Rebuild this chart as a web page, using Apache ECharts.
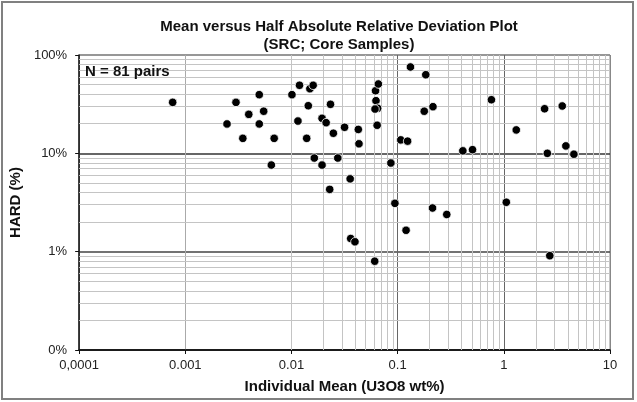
<!DOCTYPE html>
<html>
<head>
<meta charset="utf-8">
<script src="https://cdn.jsdelivr.net/npm/echarts@6/dist/echarts.min.js"></script>
<style>
html,body{margin:0;padding:0;background:#fff;}
#chart{width:637px;height:402px;}
</style>
</head>
<body>
<div id="chart"></div>
<script>
// Individual mean (U3O8 wt%)
var meanValues = [
  0.00076, 0.00247, 0.0030, 0.00348, 0.00396, 0.00497, 0.00497, 0.00547, 0.00646, 0.00687,
  0.0101, 0.0115, 0.0119, 0.0139, 0.0144, 0.0149, 0.0160, 0.0164, 0.0194, 0.0194,
  0.0212, 0.0229, 0.0233, 0.0248, 0.0273, 0.0316, 0.0357, 0.0426, 0.0432, 0.0619,
  0.0625, 0.0648, 0.0658, 0.0612, 0.0641, 0.0863, 0.107, 0.124, 0.132, 0.178,
  0.184, 0.215, 0.411, 0.507, 0.764, 1.055, 1.31, 2.42, 2.57, 3.55,
  3.84, 4.57, 0.0942, 0.213, 0.290, 0.120, 0.0361, 0.0396, 0.0608, 2.71
];
// HARD (%)
var hardValues = [
  33, 19.9, 33, 14.2, 24.9, 39.5, 19.9, 26.8, 7.6, 14.2,
  39.5, 21.3, 49.2, 14.2, 30.5, 45.4, 49.2, 8.96, 22.7, 7.6,
  20.5, 4.3, 31.5, 16.0, 8.96, 18.4, 5.5, 17.5, 12.5, 43.3,
  34.3, 28.7, 50.7, 28.2, 19.3, 7.97, 13.7, 13.3, 75.5, 26.8,
  63, 29.8, 10.6, 10.9, 35.1, 3.18, 17.3, 28.4, 10.0, 30.3,
  11.9, 9.8, 3.1, 2.78, 2.39, 1.65, 1.36, 1.26, 0.80, 0.91
];
var xTickLabels = ['0,0001', '0.001', '0.01', '0.1', '1', '10'];
var yTickLabels = ['0%', '1%', '10%', '100%'];
var xDecades = [0.0001, 0.001, 0.01, 0.1, 1];
var yDecades = [0.1, 1, 10];
var minorMultipliers = [2, 3, 4, 5, 6, 7, 8, 9];

var points = meanValues.map(function (x, i) { return [x, hardValues[i]]; });

var minorLines = [];
xDecades.forEach(function (d) {
  minorMultipliers.forEach(function (m) { minorLines.push({ xAxis: +(d * m).toPrecision(6) }); });
});
yDecades.forEach(function (d) {
  minorMultipliers.forEach(function (m) { minorLines.push({ yAxis: +(d * m).toPrecision(6) }); });
});

var FONT = '"Liberation Sans", Arial, sans-serif';
var chart = echarts.init(document.getElementById('chart'), null, { renderer: 'canvas' });
chart.setOption({
  animation: false,
  backgroundColor: '#ffffff',
  title: {
    text: 'Mean versus Half Absolute Relative Deviation Plot\n(SRC; Core Samples)',
    left: 334,
    top: 13,
    textAlign: 'center',
    textStyle: { fontFamily: FONT, fontSize: 15, fontWeight: 'bold', color: '#111', lineHeight: 18 }
  },
  graphic: [
    {
      type: 'rect', silent: true, z: 100,
      shape: { x: 2, y: 2, width: 631, height: 397 },
      style: { fill: 'none', stroke: '#808080', lineWidth: 2 }
    },
    {
      type: 'text', left: 85, top: 64, z: 100,
      style: { text: 'N = 81 pairs', font: 'bold 15px ' + FONT, fill: '#111' }
    }
  ],
  grid: { left: 75, right: 27, top: 55, bottom: 52, show: true, borderColor: '#888', borderWidth: 1 },
  xAxis: {
    type: 'log', logBase: 10, min: 0.0001, max: 10, splitNumber: 5,
    name: 'Individual Mean (U3O8 wt%)', nameLocation: 'middle', nameGap: 29,
    nameTextStyle: { fontFamily: FONT, fontSize: 15, fontWeight: 'bold', color: '#111' },
    axisLine: { onZero: false, lineStyle: { color: '#111', width: 1.5 } },
    axisTick: { show: true, length: 4, lineStyle: { color: '#111' } },
    axisLabel: {
      fontFamily: FONT, fontSize: 13, color: '#222', margin: 9,
      formatter: function (v) { return xTickLabels[Math.round(Math.log10(v)) + 4]; }
    },
    splitLine: { show: true, lineStyle: { color: ['#888', '#aaa', '#999', '#666', '#666', '#888'], width: 1 } }
  },
  yAxis: {
    type: 'log', logBase: 10, min: 0.1, max: 100, splitNumber: 3,
    name: 'HARD (%)', nameLocation: 'middle', nameGap: 47,
    nameTextStyle: { fontFamily: FONT, fontSize: 15, fontWeight: 'bold', color: '#111' },
    axisLine: { onZero: false, lineStyle: { color: '#111', width: 1.5 } },
    axisTick: { show: true, length: 4, lineStyle: { color: '#111' } },
    axisLabel: {
      fontFamily: FONT, fontSize: 13, color: '#222', margin: 12,
      formatter: function (v) { return yTickLabels[Math.round(Math.log10(v)) + 1]; }
    },
    splitLine: { show: true, lineStyle: { color: ['#111', '#444', '#333', '#888'], width: 1.5 } }
  },
  series: [
    {
      type: 'line', data: [], z: 1, silent: true,
      markLine: {
        silent: true, symbol: ['none', 'none'], animation: false,
        label: { show: false },
        lineStyle: { type: 'solid', color: '#c4c4c4', width: 1 },
        emphasis: { disabled: true },
        data: minorLines
      }
    },
    {
      type: 'scatter', z: 5, data: points, symbol: 'circle', symbolSize: 8.5,
      itemStyle: { color: '#000', borderColor: '#fff', borderWidth: 0.8, opacity: 1 }
    }
  ]
});
</script>
</body>
</html>
